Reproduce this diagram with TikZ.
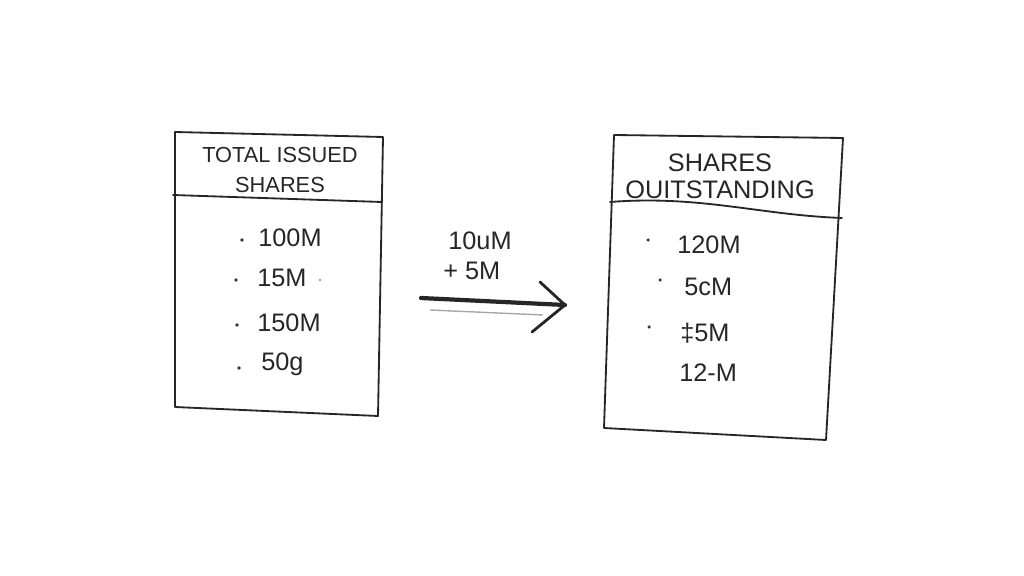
\documentclass[tikz,border=0pt]{standalone}
\usepackage{fontspec}
\setsansfont{Liberation Sans}
\begin{document}
\begin{tikzpicture}[x=0.025cm,y=-0.025cm,
  ink/.style={draw=black!85, line width=1.3pt, line cap=round, line join=round},
  head/.style={font=\sffamily\fontsize{18}{20}\selectfont, text=black!85, inner sep=0pt, align=center},
  item/.style={font=\sffamily\fontsize{18}{22}\selectfont, text=black!85, inner sep=0pt, anchor=west},
  dot/.style={fill=black!80, circle, inner sep=0pt, minimum size=2.5pt}]
\useasboundingbox (0,0) rectangle (1024,576);
% left box
\coordinate (L1) at (175,132);
\coordinate (L2) at (383,137);
\coordinate (L3) at (378,416);
\coordinate (L4) at (175,407);
\draw[ink] (L1) -- (L2) -- (L3) -- (L4) -- cycle;
\coordinate (LH1) at (173,195);
\coordinate (LH2) at (382,202);
\draw[ink] (LH1) -- (LH2);
\node[head, font=\sffamily\fontsize{15.5}{21}\selectfont] (lt) at (280,170) {TOTAL ISSUED\\SHARES};
\node[dot] (ld1) at (242,240) {};
\node[dot] (ld2) at (236,280) {};
\node[dot] (ld3) at (237,325) {};
\node[dot] (ld4) at (239,368) {};
\node[item] (li1) at (258,238) {100M};
\node[item] (li2) at (257,278) {15M};
\node[dot, minimum size=1.5pt, fill=black!50] (ld5) at (320,280) {};
\node[item] (li3) at (257,323) {150M};
\node[item] (li4) at (261,364) {50g};
% arrow label
\node[item] (al1) at (448,241) {10uM};
\node[item] (al2) at (443,271) {+ 5M};
% arrow
\coordinate (a1) at (421,298);
\coordinate (a2) at (565,305);
\coordinate (g1) at (430,310);
\coordinate (g2) at (543,315);
\draw[draw=black!35, line width=1pt] (g1) -- (g2);
\draw[draw=black!85, line width=3pt, line cap=round] (a1) -- (a2);
\draw[ink, line width=2pt] (540,282) -- (a2) -- (532,332);
% right box
\coordinate (R1) at (614,135);
\coordinate (R2) at (843,138);
\coordinate (R3) at (826,440);
\coordinate (R4) at (604,428);
\draw[ink] (R1) -- (R2) -- (R3) -- (R4) -- cycle;
\coordinate (RH1) at (610,202);
\coordinate (RH2) at (842,218);
\draw[ink] (RH1) .. controls (700,195) and (760,215) .. (RH2);
\node[head, font=\sffamily\fontsize{18}{19.5}\selectfont] (rt) at (720,176) {SHARES\\OUITSTANDING};
\node[dot] (rd1) at (648,240) {};
\node[dot] (rd2) at (660,280) {};
\node[dot] (rd3) at (649,327) {};
\node[item] (ri1) at (677,245) {120M};
\node[item] (ri2) at (684,287) {5cM};
\node[item] (ri3) at (680,333) {\ddag5M};
\node[item] (ri4) at (679,373) {12-M};
\end{tikzpicture}
\end{document}
